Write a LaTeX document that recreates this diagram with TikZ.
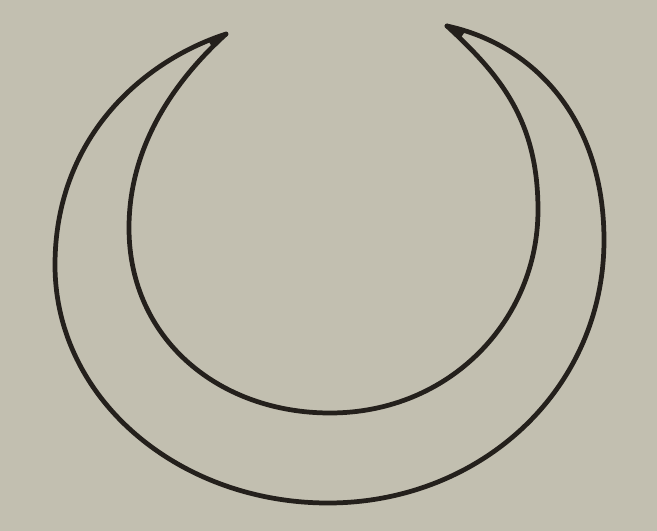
\documentclass[tikz,border=0pt]{standalone}
\definecolor{paper}{RGB}{194,191,176}
\definecolor{ink}{RGB}{36,32,28}
\tikzset{stroke/.style={draw=ink,line width=2.7pt,line join=round,line cap=round}}
\begin{document}
\begin{tikzpicture}[x=0.02cm,y=-0.02cm]
\fill[paper] (0,0) rectangle (657,531);
\useasboundingbox (0,0) rectangle (657,531);
\coordinate (lt) at (226,34);
\coordinate (rt) at (447,26);
% thickened tips
\fill[ink] (lt) -- (208,40) -- (212,47) -- cycle;
\fill[ink] (rt) -- (466,30) -- (460,39) -- cycle;
% outer curve
\draw[stroke] (lt) .. controls (140,62) and (55,140) .. (55,265)
  .. controls (55,400) and (180,503) .. (328,503)
  .. controls (480,503) and (604,390) .. (604,240)
  .. controls (604,120) and (535,45) .. (rt);
% inner curve
\draw[stroke] (lt) .. controls (170,85) and (129,150) .. (129,228)
  .. controls (129,340) and (220,413) .. (330,413)
  .. controls (450,413) and (538,320) .. (538,210)
  .. controls (538,120) and (500,75) .. (rt);
\end{tikzpicture}
\end{document}
